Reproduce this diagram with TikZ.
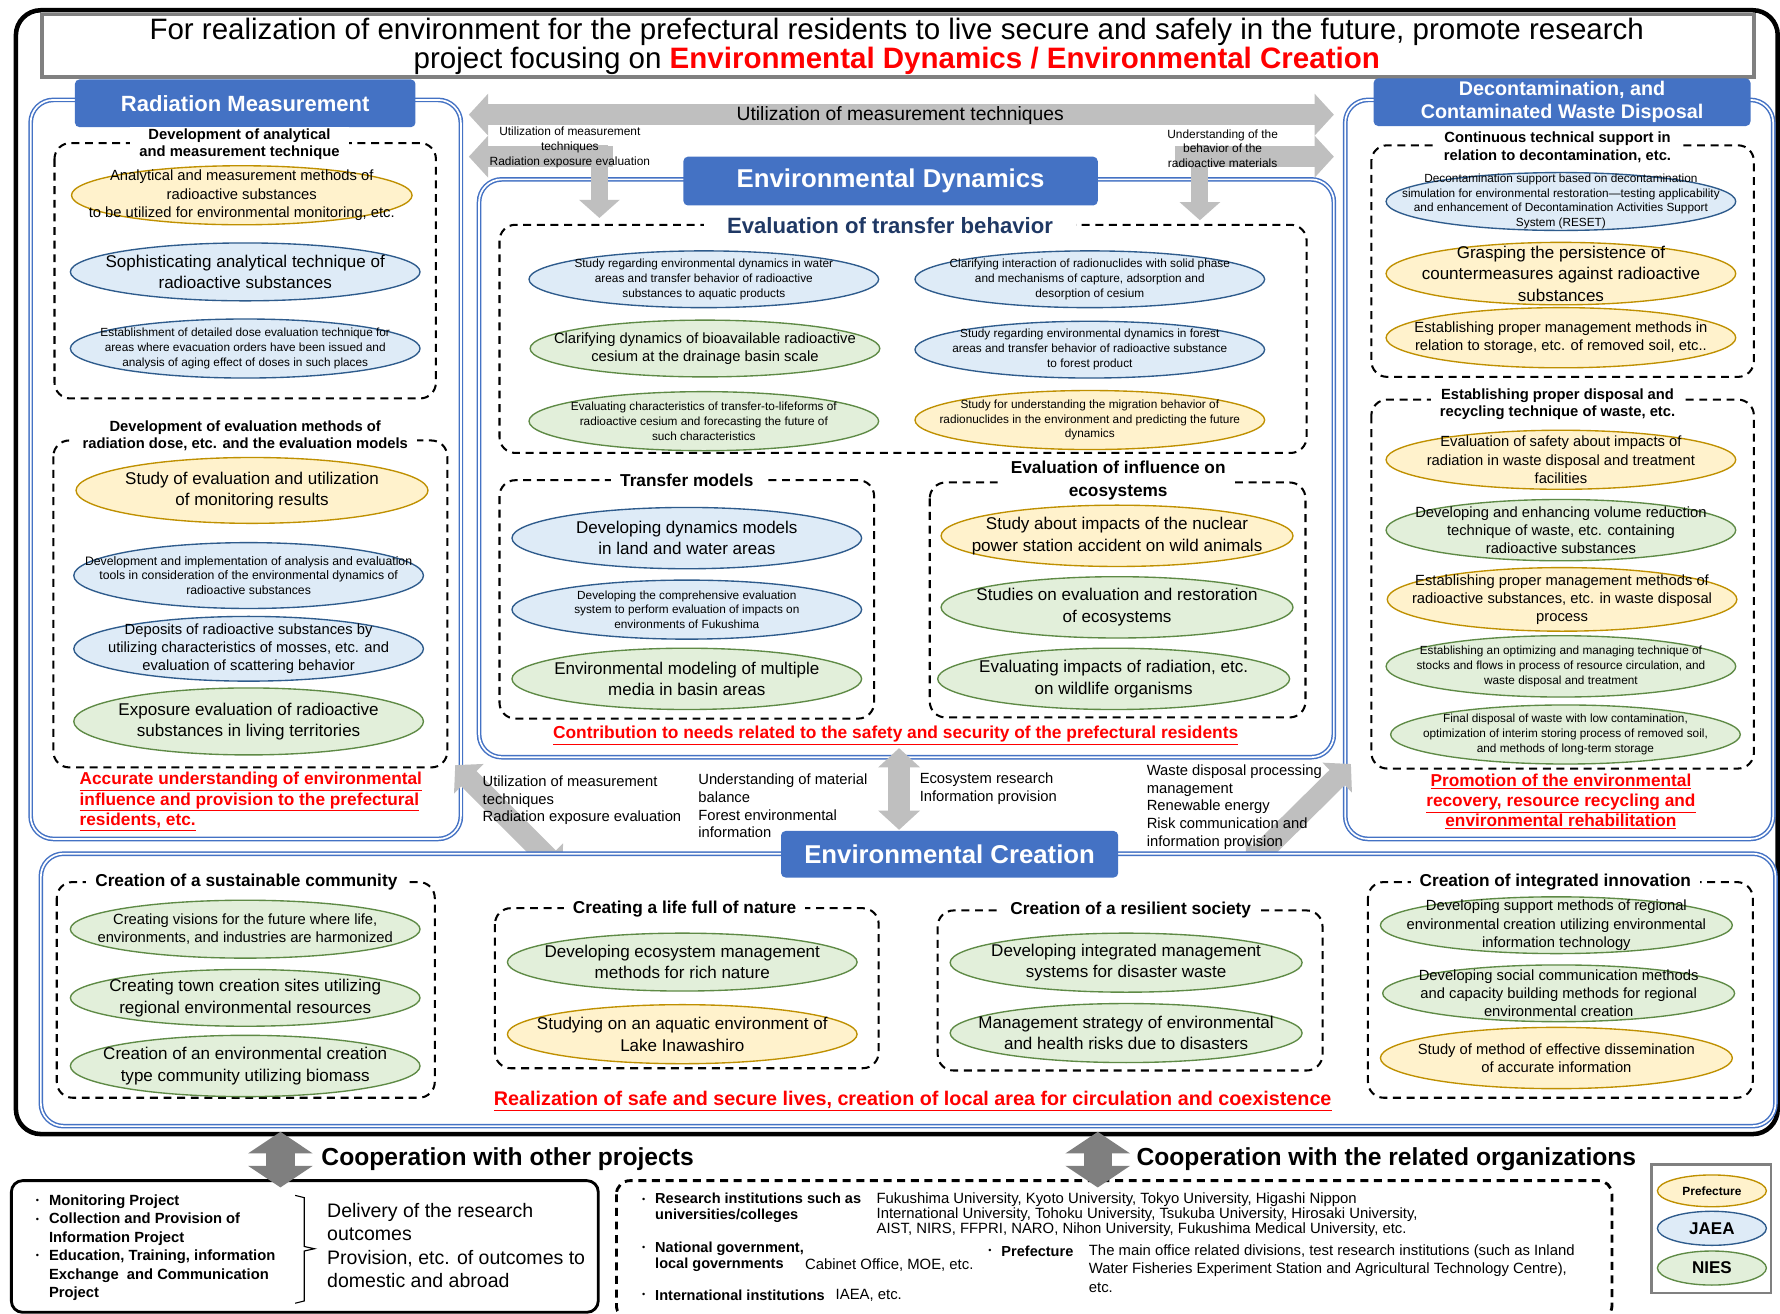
\documentclass[tikz,border=0pt]{standalone}
\usepackage{fontspec}
\setmainfont{Liberation Sans}
\usetikzlibrary{arrows.meta}

\definecolor{tabblue}{HTML}{4472C4}
\definecolor{frameblue}{HTML}{4472C4}
\definecolor{ylwfill}{HTML}{FFF2CC}
\definecolor{ylwline}{HTML}{BF9000}
\definecolor{blufill}{HTML}{DEEBF7}
\definecolor{bluline}{HTML}{2E5B8C}
\definecolor{grnfill}{HTML}{E2EFDA}
\definecolor{grnline}{HTML}{5E8A45}
\definecolor{arrowgrey}{HTML}{BFBFBF}
\definecolor{coopgrey}{HTML}{7F7F7F}
\definecolor{titlegrey}{HTML}{808080}
\definecolor{navy}{HTML}{1F3864}

\newcommand{\fbig}{\fontsize{15}{19}\selectfont}
\newcommand{\fmid}{\fontsize{13}{16}\selectfont}
\newcommand{\fsml}{\fontsize{10.4}{13}\selectfont}

% ellipse with its text on top
\newcommand{\bubble}[6]{%
  \draw[#1] (#4) ellipse (#5);
  \node[btxt, font=#2] (#3) at (#4) {#6};}

\tikzset{
  panel/.style={draw=frameblue, double=white, double distance=1.5pt, line width=1.3pt, rounded corners=20pt, fill=white},
  tab/.style={fill=tabblue, rounded corners=4pt, text=white, align=center, inner sep=0pt},
  group/.style={draw=black, line width=1.8pt, dash pattern=on 7pt off 5pt, rounded corners=14pt},
  gtitle/.style={fill=white, align=center, inner xsep=8pt, inner ysep=1pt, font=\bfseries\fontsize{13}{15.5}\selectfont},
  gtitlebig/.style={gtitle, font=\bfseries\fontsize{15.2}{20}\selectfont},
  ylw/.style={draw=ylwline, fill=ylwfill, line width=1.2pt},
  blu/.style={draw=bluline, fill=blufill, line width=1.2pt},
  grn/.style={draw=grnline, fill=grnfill, line width=1.2pt},
  btxt/.style={align=center, inner sep=0pt},
  goal/.style={text=red, align=center, inner sep=0pt, font=\bfseries\fontsize{15.2}{18}\selectfont},
  note/.style={align=left, anchor=west, inner sep=0pt, font=\fontsize{13}{15.5}\selectfont},
  arrownote/.style={align=center, inner sep=0pt, font=\fontsize{10.5}{13}\selectfont},
  gfat/.style={draw=arrowgrey, line width=19pt, {Triangle[length=17pt,width=36pt]}-{Triangle[length=17pt,width=36pt]}},
  gbar/.style={draw=arrowgrey, line width=18pt, -{Triangle[length=17pt,width=36pt]}},
  gdown/.style={draw=arrowgrey, line width=15pt, -{Triangle[length=16pt,width=35pt]}},
  coop/.style={draw=coopgrey, line width=25pt, {Triangle[length=19pt,width=56pt]}-{Triangle[length=19pt,width=56pt]}},
  coophead/.style={anchor=west, inner sep=0pt, font=\bfseries\fontsize{21.7}{24}\selectfont},
  lbl/.style={anchor=west, align=left, inner sep=0pt, font=\bfseries\fontsize{12.8}{14}\selectfont},
  org/.style={anchor=west, align=left, inner sep=0pt, font=\fontsize{13.1}{13}\selectfont},
  dot/.style={inner sep=0pt, font=\fontsize{8}{8}\selectfont}
}

\begin{document}
\begin{tikzpicture}[x=1pt, y=-1pt]
\useasboundingbox (0,0) rectangle (1568,1157);

% frame and heading
\draw[line width=4pt, rounded corners=22pt] (14,9) rectangle (1566,999);
\draw[draw=titlegrey, line width=3pt, fill=white] (37,13) rectangle (1545,68);
\node[align=center, inner sep=0pt, font=\fontsize{26}{26}\selectfont] (head) at (790,41)
  {For realization of environment for the prefectural residents to live secure and safely in the future, promote research\\
   project focusing on {\color{red}\bfseries Environmental Dynamics / Environmental Creation}};

% upper panels
\draw[panel] (27,88) rectangle (406,739);
\draw[panel] (422,158) rectangle (1175,667);
\draw[panel] (1185,88) rectangle (1562,739);

% grey arrows on top
\draw[gfat] (413,101) -- (1175,101);
\draw[gbar] (540,138) -- (413,138);
\draw[gbar] (1035,138) -- (1175,138);
\draw[gdown] (528,128) -- (528,192);
\draw[gdown] (1057,128) -- (1057,194);
\node[inner sep=0pt, font=\fontsize{17}{20}\selectfont] (useTop) at (793,102) {Utilization of measurement techniques};
\node[arrownote] (useL) at (502,130) {Utilization of measurement\\techniques\\Radiation exposure evaluation};
\node[arrownote] (useR) at (1077,131) {Understanding of the\\behavior of the\\radioactive materials};

% tabs
\node[tab, minimum width=300pt, minimum height=42pt, font=\bfseries\fontsize{19.4}{22}\selectfont] (rmTab) at (216,91) {Radiation Measurement};
\node[tab, minimum width=365pt, minimum height=43pt, font=\bfseries\fontsize{22.7}{26}\selectfont] (edTab) at (784.5,159.5) {Environmental Dynamics};
\node[tab, minimum width=332pt, minimum height=42pt, font=\bfseries\fontsize{17.4}{20}\selectfont] (dcTab) at (1376,90) {Decontamination, and\\Contaminated Waste Disposal};

% Radiation Measurement
\draw[group] (48,126) rectangle (384,351);
\node[gtitle] (rmAt) at (211,127) {Development of analytical\\and measurement technique};
\bubble{ylw}{\fmid}{rmA1}{213,172}{150pt and 26pt}{Analytical and measurement methods of\\radioactive substances\\to be utilized for environmental monitoring, etc.}
\bubble{blu}{\fbig}{rmA2}{216,239.5}{154pt and 25.5pt}{Sophisticating analytical technique of\\radioactive substances}
\bubble{blu}{\fsml}{rmA3}{216,307}{154pt and 26pt}{Establishment of detailed dose evaluation technique for\\areas where evacuation orders have been issued and\\analysis of aging effect of doses in such places}

\draw[group] (47,388) rectangle (394,676);
\node[gtitle] (rmBt) at (216,384) {Development of evaluation methods of\\radiation dose, etc. and the evaluation models};
\bubble{ylw}{\fbig}{rmB1}{222,432}{155pt and 29pt}{Study of evaluation and utilization\\of monitoring results}
\bubble{blu}{\fontsize{10.8}{13}\selectfont}{rmB2}{219,507}{154pt and 29pt}{Development and implementation of analysis and evaluation\\tools in consideration of the environmental dynamics of\\radioactive substances}
\bubble{blu}{\fmid}{rmB3}{219,571.5}{154pt and 28.5pt}{Deposits of radioactive substances by\\utilizing characteristics of mosses, etc. and\\evaluation of scattering behavior}
\bubble{grn}{\fbig}{rmB4}{219,635.5}{154pt and 29.5pt}{Exposure evaluation of radioactive\\substances in living territories}
\node[goal, align=left, anchor=west] (rmGoal) at (70,706) {\underline{Accurate understanding of environmental}\\\underline{influence and provision to the prefectural}\\\underline{residents, etc.}};

% Environmental Dynamics
\draw[group] (440,198) rectangle (1151,399);
\node[gtitle, text=navy, inner xsep=20pt, font=\bfseries\fontsize{19.5}{22}\selectfont] (edAt) at (784,199) {Evaluation of transfer behavior};
\bubble{blu}{\fsml}{edA1}{620,246}{154pt and 25pt}{Study regarding environmental dynamics in water\\areas and transfer behavior of radioactive\\substances to aquatic products}
\bubble{grn}{\fmid}{edA2}{621,307}{154pt and 25pt}{Clarifying dynamics of bioavailable radioactive\\cesium at the drainage basin scale}
\bubble{grn}{\fsml}{edA3}{620,371}{154pt and 26pt}{Evaluating characteristics of transfer-to-lifeforms of\\radioactive cesium and forecasting the future of\\such characteristics}
\bubble{blu}{\fsml}{edA4}{960,246}{154pt and 25pt}{Clarifying interaction of radionuclides with solid phase\\and mechanisms of capture, adsorption and\\desorption of cesium}
\bubble{blu}{\fsml}{edA5}{960,308}{154pt and 25pt}{Study regarding environmental dynamics in forest\\areas and transfer behavior of radioactive substance\\to forest product}
\bubble{ylw}{\fsml}{edA6}{960,370}{154pt and 26pt}{Study for understanding the migration behavior of\\radionuclides in the environment and predicting the future\\dynamics}

\draw[group] (440,423) rectangle (770,633);
\node[gtitlebig] (edBt) at (605,423) {Transfer models};
\bubble{blu}{\fbig}{edB1}{605,474}{154pt and 27pt}{Developing dynamics models\\in land and water areas}
\bubble{blu}{\fsml}{edB2}{605,537}{154pt and 26pt}{Developing the comprehensive evaluation\\system to perform evaluation of impacts on\\environments of Fukushima}
\bubble{grn}{\fbig}{edB3}{605,598}{154pt and 27pt}{Environmental modeling of multiple\\media in basin areas}

\draw[group] (819,425) rectangle (1150,632);
\node[gtitlebig] (edCt) at (985,423) {Evaluation of influence on\\ecosystems};
\bubble{ylw}{\fbig}{edC1}{984,472}{155pt and 27pt}{Study about impacts of the nuclear\\power station accident on wild animals}
\bubble{grn}{\fbig}{edC2}{984,535}{155pt and 27pt}{Studies on evaluation and restoration\\of ecosystems}
\bubble{grn}{\fbig}{edC3}{981,598}{155pt and 27pt}{Evaluating impacts of radiation, etc.\\on wildlife organisms}
\node[goal, font=\bfseries\fontsize{15.3}{17}\selectfont] (edGoal) at (789,648) {\underline{Contribution to needs related to the safety and security of the prefectural residents}};

% Decontamination, and Contaminated Waste Disposal
\draw[group] (1208,128) rectangle (1545,332);
\node[gtitle] (dcAt) at (1372,130) {Continuous technical support in\\relation to decontamination, etc.};
\bubble{blu}{\fsml}{dcA1}{1375,177.5}{154pt and 25.5pt}{Decontamination support based on decontamination\\simulation for environmental restoration---testing applicability\\and enhancement of Decontamination Activities Support\\System (RESET)}
\bubble{ylw}{\fbig}{dcA2}{1375,241}{154pt and 27.5pt}{Grasping the persistence of\\countermeasures against radioactive\\substances}
\bubble{ylw}{\fmid}{dcA3}{1375,297.5}{154pt and 26.5pt}{Establishing proper management methods in\\relation to storage, etc. of removed soil, etc..}

\draw[group] (1208,352) rectangle (1545,677);
\node[gtitle] (dcBt) at (1372,356) {Establishing proper disposal and\\recycling technique of waste, etc.};
\bubble{ylw}{\fmid}{dcB1}{1375,405}{154pt and 26pt}{Evaluation of safety about impacts of\\radiation in waste disposal and treatment\\facilities}
\bubble{grn}{\fmid}{dcB2}{1375,467}{154pt and 27pt}{Developing and enhancing volume reduction\\technique of waste, etc. containing\\radioactive substances}
\bubble{ylw}{\fmid}{dcB3}{1376,528}{154pt and 28pt}{Establishing proper management methods of\\radioactive substances, etc. in waste disposal\\process}
\bubble{grn}{\fsml}{dcB4}{1375,587}{154pt and 27pt}{Establishing an optimizing and managing technique of\\stocks and flows in process of resource circulation, and\\waste disposal and treatment}
\bubble{grn}{\fsml}{dcB5}{1379,647}{154pt and 26pt}{Final disposal of waste with low contamination,\\optimization of interim storing process of removed soil,\\and methods of long-term storage}
\node[goal] (dcGoal) at (1375,706) {\underline{Promotion of the environmental}\\\underline{recovery, resource recycling and}\\\underline{environmental rehabilitation}};

% links down to Environmental Creation
\draw[gfat] (401,674) -- (495,768);
\draw[gfat] (792,659) -- (792,731);
\draw[gfat] (1098,764) -- (1190,673);
\node[note] (linkA) at (425,705) {Utilization of measurement\\techniques\\Radiation exposure evaluation};
\node[note] (linkB) at (615,710) {Understanding of material\\balance\\Forest environmental\\information};
\node[note] (linkC) at (810,694.5) {Ecosystem research\\Information provision};
\node[note] (linkD) at (1010,711) {Waste disposal processing\\management\\Renewable energy\\Risk communication and\\information provision};

% Environmental Creation
\draw[panel] (36,752) rectangle (1564,992);
\node[tab, minimum width=297pt, minimum height=41pt, font=\bfseries\fontsize{22.7}{26}\selectfont] (ecTab) at (836.5,752.5) {Environmental Creation};

\draw[group] (50,777) rectangle (383,967);
\node[gtitlebig] (ecAt) at (217,777) {Creation of a sustainable community};
\bubble{grn}{\fmid}{ecA1}{216,818.5}{154pt and 25.5pt}{Creating visions for the future where life,\\environments, and industries are harmonized}
\bubble{grn}{\fbig}{ecA2}{216,879}{154pt and 25pt}{Creating town creation sites utilizing\\regional environmental resources}
\bubble{grn}{\fbig}{ecA3}{216,939}{154pt and 27pt}{Creation of an environmental creation\\type community utilizing biomass}

\draw[group] (436,800) rectangle (774,941);
\node[gtitlebig] (ecBt) at (603,801) {Creating a life full of nature};
\bubble{grn}{\fbig}{ecB1}{601,847.5}{154pt and 25.5pt}{Developing ecosystem management\\methods for rich nature}
\bubble{ylw}{\fbig}{ecB2}{601,911}{154pt and 26pt}{Studying on an aquatic environment of\\Lake Inawashiro}

\draw[group] (826,802) rectangle (1165,943);
\node[gtitlebig] (ecCt) at (996,802) {Creation of a resilient society};
\bubble{grn}{\fbig}{ecC1}{992,848}{155pt and 26pt}{Developing integrated management\\systems for disaster waste}
\bubble{grn}{\fbig}{ecC2}{992,910}{155pt and 26pt}{Management strategy of environmental\\and health risks due to disasters}

\draw[group] (1205,777) rectangle (1544,967);
\node[gtitlebig] (ecDt) at (1370,777) {Creation of integrated innovation};
\bubble{grn}{\fmid}{ecD1}{1371,815}{155pt and 25pt}{Developing support methods of regional\\environmental creation utilizing environmental\\information technology}
\bubble{grn}{\fmid}{ecD2}{1373,875}{155pt and 25pt}{Developing social communication methods\\and capacity building methods for regional\\environmental creation}
\bubble{ylw}{\fmid}{ecD3}{1371,932}{155pt and 27pt}{Study of method of effective dissemination\\of accurate information}
\node[goal, font=\bfseries\fontsize{17.4}{19}\selectfont] (ecGoal) at (804,970) {\underline{Realization of safe and secure lives, creation of local area for circulation and coexistence}};

% cooperation: other projects
\draw[line width=2.5pt, rounded corners=10pt] (10,1040) rectangle (527,1156);
\node[dot] (pjDot1) at (33,1058) {•};
\node[dot] (pjDot2) at (33,1075) {•};
\node[dot] (pjDot3) at (33,1107) {•};
\node[anchor=west, align=left, inner sep=0pt, font=\bfseries\fontsize{13}{16.2}\selectfont] (pjList) at (43,1099)
  {Monitoring Project\\Collection and Provision of\\Information Project\\Education, Training, information\\Exchange~ and Communication\\Project};
\draw[line width=1pt] (260,1053) -- (268,1055) -- (268,1098) -- (277,1100) -- (268,1102) -- (268,1146) -- (260,1148);
\node[anchor=west, align=left, inner sep=0pt, font=\fontsize{17.2}{20.6}\selectfont] (pjOut) at (288,1097)
  {Delivery of the research\\outcomes\\Provision, etc. of outcomes to\\domestic and abroad};

% cooperation: related organizations
\draw[group, line width=2.5pt, rounded corners=12pt] (543,1040) rectangle (1420,1162);
\node[dot] (orDot1) at (567,1057) {•};
\node[lbl] (orLab1) at (577,1064) {Research institutions such as\\universities/colleges};
\node[org] (orTxt1) at (772,1070) {Fukushima University, Kyoto University, Tokyo University, Higashi Nippon\\International University, Tohoku University, Tsukuba University, Hirosaki University,\\AIST, NIRS, FFPRI, NARO, Nihon University, Fukushima Medical University, etc.};
\node[dot] (orDot2) at (567,1100) {•};
\node[lbl] (orLab2) at (577,1107) {National government,\\local governments};
\node[org] (orTxt2) at (709,1114) {Cabinet Office, MOE, etc.};
\node[dot] (orDot3) at (872,1102) {•};
\node[lbl] (orLab3) at (882,1102) {Prefecture};
\node[org, font=\fontsize{13.1}{16.2}\selectfont] (orTxt3) at (959,1117.5) {The main office related divisions, test research institutions (such as Inland\\Water Fisheries Experiment Station and Agricultural Technology Centre),\\etc.};
\node[dot] (orDot4) at (567,1141) {•};
\node[lbl] (orLab4) at (577,1141) {International institutions};
\node[org] (orTxt4) at (736,1141) {IAEA, etc.};

\draw[coop] (247,997) -- (247,1046);
\node[coophead] (coopA) at (283,1021) {Cooperation with other projects};
\draw[coop] (967,997) -- (967,1046);
\node[coophead] (coopB) at (1001,1021) {Cooperation with the related organizations};

% legend
\draw[draw=titlegrey, line width=2.5pt] (1455,1026) rectangle (1560,1139);
\bubble{ylw}{\bfseries\fontsize{10.5}{12}\selectfont}{keyPref}{1508,1049}{48pt and 14pt}{Prefecture}
\bubble{blu}{\bfseries\fontsize{15}{17}\selectfont}{keyJaea}{1508,1082}{48pt and 15pt}{JAEA}
\bubble{grn}{\bfseries\fontsize{15}{17}\selectfont}{keyNies}{1508,1117}{48pt and 15pt}{NIES}
\end{tikzpicture}
\end{document}
